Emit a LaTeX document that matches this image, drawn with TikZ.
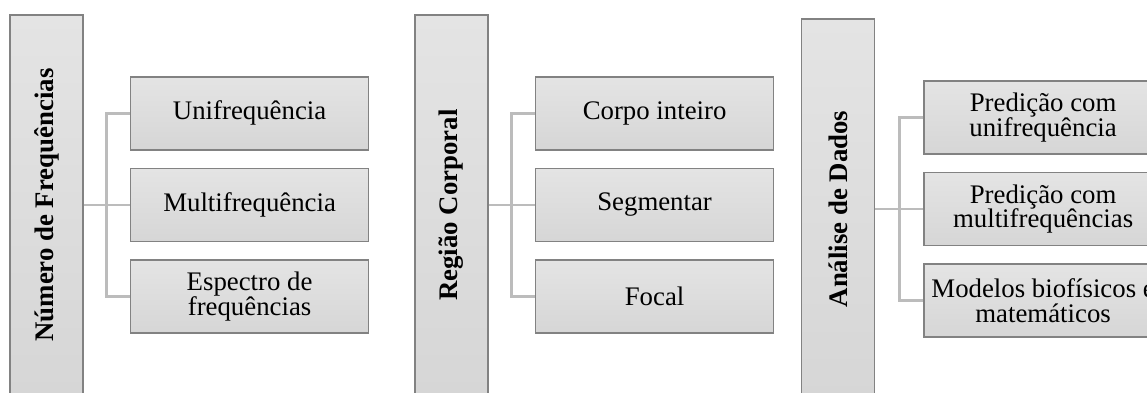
\documentclass[tikz,border=0pt]{standalone}
\usepackage{fontspec}
\setmainfont{Liberation Serif}
\usepackage{xcolor}
\usetikzlibrary{positioning}
\definecolor{boxgray}{RGB}{214,214,214}
\definecolor{boxlight}{RGB}{228,228,228}
\definecolor{edgegray}{RGB}{130,130,130}
\definecolor{linkgray}{RGB}{188,188,188}

\begin{document}
\begin{tikzpicture}[
        node distance=8.5pt and 23pt,
        headbox/.style={rectangle, draw=edgegray, line width=0.8pt,
            top color=boxlight, bottom color=boxgray, text=black,
            minimum width=36.5pt, minimum height=190pt, inner sep=0pt,
            font=\fontsize{13.4}{12.4}\selectfont\bfseries},
        itembox/.style={rectangle, draw=edgegray, line width=0.8pt,
            top color=boxlight, bottom color=boxgray, text=black,
            minimum width=119pt, minimum height=36.5pt, inner sep=1pt,
            align=center, font=\fontsize{13.4}{12.4}\selectfont},
        link/.style={draw=linkgray, line width=1.4pt}
    ]
        \useasboundingbox (0,0) rectangle (573.5pt,-196pt);
        \clip (0,0) rectangle (573.5pt,-196pt);

        % Numero de frequencias
        \node[headbox] (H1) at (23.25pt,-102.5pt) {\rotatebox{90}{Número de Frequências}};
        \node[itembox, right=23pt of H1] (F2) {Multifrequência};
        \node[itembox, above=of F2] (F1) {Unifrequência};
        \node[itembox, below=of F2] (F3) {Espectro de\\frequências};

        % Regiao corporal
        \node[headbox] (H2) at (225.75pt,-102.5pt) {\rotatebox{90}{Região Corporal}};
        \node[itembox, right=23pt of H2] (R2) {Segmentar};
        \node[itembox, above=of R2] (R1) {Corpo inteiro};
        \node[itembox, below=of R2] (R3) {Focal};

        % Analise de dados
        \node[headbox] (H3) at (419pt,-104.5pt) {\rotatebox{90}{Análise de Dados}};
        \node[itembox, right=24pt of H3] (A2) {Predição com\\multifrequências};
        \node[itembox, above=of A2] (A1) {Predição com\\unifrequência};
        \node[itembox, below=of A2] (A3) {Modelos biofísicos e\\matemáticos};

        \draw[link] (H1.east) -- (F2.west);
        \draw[link] (F1.west) -- ++(-11.5pt,0) |- (F3.west);
        \draw[link] (H2.east) -- (R2.west);
        \draw[link] (R1.west) -- ++(-11.5pt,0) |- (R3.west);
        \draw[link] (H3.east) -- (A2.west);
        \draw[link] (A1.west) -- ++(-12pt,0) |- (A3.west);
    \end{tikzpicture}
\end{document}
